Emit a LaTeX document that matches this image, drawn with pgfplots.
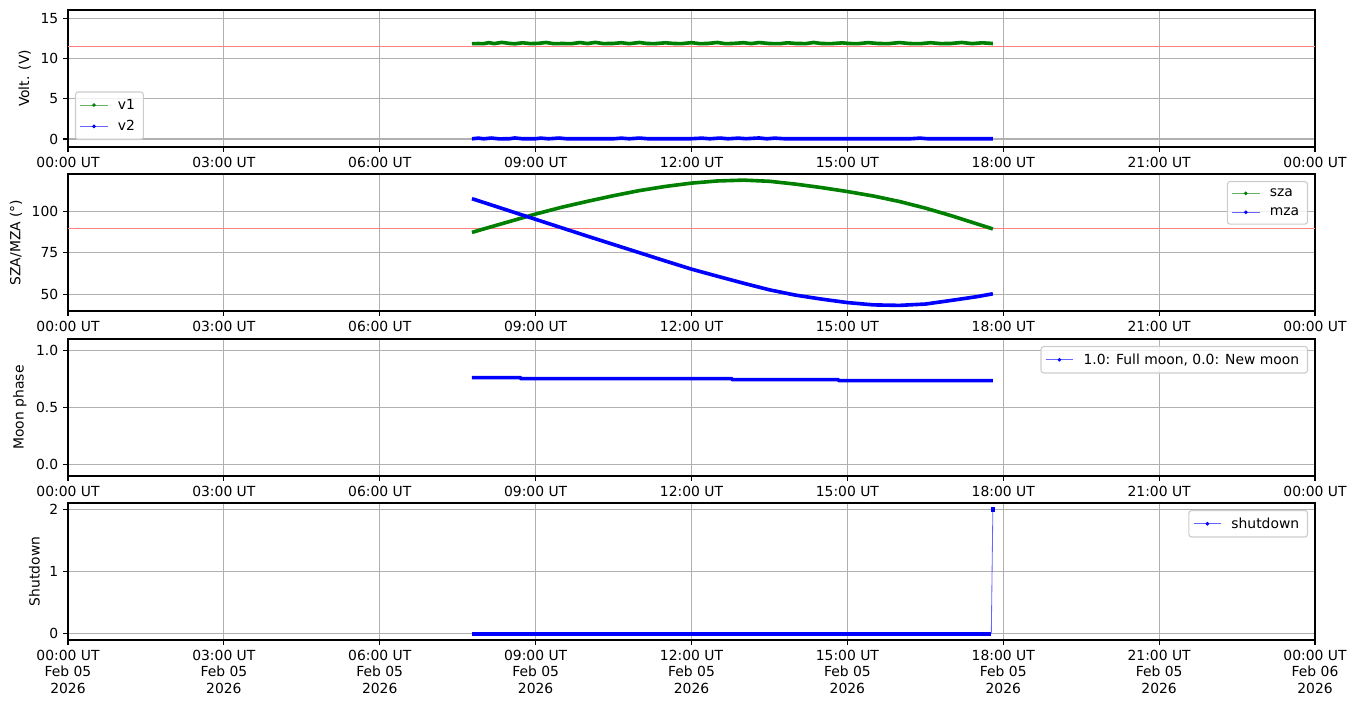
\documentclass[border=0pt]{standalone}
\usepackage{fontspec}
\setmainfont{DejaVu Sans}
\usepackage{pgfplots}
\pgfplotsset{compat=1.18}
\definecolor{mplgreen}{HTML}{008000}
\definecolor{mplgreenl}{HTML}{66B366}
\definecolor{mplblue}{HTML}{0000FF}
\definecolor{mplbluel}{HTML}{6666FF}
\definecolor{mplred}{HTML}{FF8080}
\definecolor{gridgray}{HTML}{B0B0B0}
\definecolor{leggray}{HTML}{CCCCCC}
\pgfplotsset{
  panel/.style={
    scale only axis, width=897.84pt, height=98.64pt,
    anchor=south west,
    xmin=0, xmax=24, xtick={0,3,...,24},
    xticklabels={00:00 UT,03:00 UT,06:00 UT,09:00 UT,12:00 UT,15:00 UT,18:00 UT,21:00 UT,00:00 UT},
    grid=major, grid style={color=gridgray, line width=0.8pt},
    tick align=outside, major tick length=3.5pt,
    tick style={black, line width=0.8pt},
    xtick pos=bottom, ytick pos=left,
    axis line style={line width=0.8pt},
    /pgf/number format/assume math mode=true,
    ticklabel style={font=\fontsize{10}{12}\selectfont},
    label style={font=\fontsize{10}{12}\selectfont},
    legend style={font=\fontsize{10}{12}\selectfont, draw=leggray, rounded corners=2pt,
      fill=white, fill opacity=0.8, text opacity=1, inner sep=3pt, row sep=2.5pt,
      line width=0.8pt, nodes={inner xsep=3pt},
      /tikz/every odd column/.append style={column sep=4pt}},
    legend cell align=left,
    legend image code/.code={\draw[mark repeat=2,mark phase=2,##1] plot coordinates {(0pt,0pt) (10pt,0pt) (20pt,0pt)};},
  },
  gleg/.style={mplgreenl, line width=0.6pt, mark=*, mark size=1pt, mark options={draw=mplgreen, fill=mplgreen}},
  bleg/.style={mplbluel, line width=0.6pt, mark=*, mark size=1pt, mark options={draw=mplblue, fill=mplblue}},
}
\begin{document}
\begin{tikzpicture}
% Panel 1: voltages
\begin{axis}[panel, at={(0pt,0pt)}, ymin=-1, ymax=16, ytick={0,5,10,15},
  ylabel={Volt. (V)},
  legend style={at={(0,0)}, anchor=south west, xshift=5pt, yshift=5pt}]
\addlegendimage{gleg}\addlegendentry{v1}
\addlegendimage{bleg}\addlegendentry{v2}
\addplot[mplred, line width=0.75pt, forget plot] coordinates {(0,11.5) (24,11.5)};
\addplot[mplgreen, line width=2.6pt, forget plot] coordinates {
(7.775,11.82) (7.9,11.84) (8.0,11.82) (8.1,11.95) (8.2,11.83) (8.35,11.98) (8.5,11.85) (8.6,11.81)
(8.75,11.93) (8.9,11.83) (9.05,11.86) (9.2,11.97) (9.35,11.82) (9.5,11.84) (9.7,11.83) (9.85,11.96)
(10.0,11.84) (10.15,11.98) (10.3,11.83) (10.5,11.85) (10.65,11.94) (10.8,11.82) (11.0,11.97) (11.15,11.84)
(11.3,11.83) (11.5,11.93) (11.65,11.85) (11.8,11.82) (12.0,11.95) (12.15,11.83) (12.3,11.84) (12.5,11.97)
(12.65,11.82) (12.8,11.85) (13.0,11.94) (13.15,11.83) (13.3,11.96) (13.5,11.84) (13.7,11.82) (13.85,11.93)
(14.0,11.85) (14.2,11.83) (14.35,11.97) (14.5,11.84) (14.7,11.83) (14.9,11.92) (15.05,11.84) (15.2,11.82)
(15.4,11.95) (15.6,11.84) (15.8,11.83) (16.0,11.96) (16.2,11.84) (16.4,11.82) (16.6,11.94) (16.8,11.83)
(17.0,11.85) (17.2,11.97) (17.4,11.83) (17.6,11.93) (17.8,11.84)};
\addplot[mplblue, line width=2.6pt, forget plot] coordinates {
(7.775,0.02) (7.9,0.10) (8.0,0.02) (8.15,0.11) (8.3,0.01) (8.5,0.03) (8.6,0.12) (8.75,0.02)
(9.0,0.03) (9.1,0.10) (9.25,0.02) (9.45,0.11) (9.6,0.02) (9.8,0.03) (10.0,0.02) (10.2,0.03)
(10.5,0.02) (10.65,0.10) (10.8,0.02) (11.0,0.11) (11.15,0.03) (11.4,0.02) (11.6,0.03) (11.8,0.02)
(12.0,0.03) (12.2,0.10) (12.35,0.02) (12.55,0.11) (12.7,0.02) (12.9,0.10) (13.05,0.03) (13.3,0.12)
(13.45,0.02) (13.6,0.10) (13.8,0.02) (14.0,0.03) (14.2,0.02) (14.4,0.03) (14.6,0.02) (14.8,0.03)
(15.0,0.02) (15.2,0.03) (15.4,0.02) (15.6,0.03) (15.8,0.02) (16.0,0.03) (16.2,0.02) (16.4,0.10)
(16.55,0.02) (16.8,0.03) (17.0,0.02) (17.2,0.03) (17.4,0.02) (17.6,0.03) (17.8,0.02)};
\end{axis}
% Panel 2: SZA / MZA
\begin{axis}[panel, at={(0pt,-118.08pt)}, ymin=39.8, ymax=122.6, ytick={50,75,100},
  ylabel={SZA/MZA (°)},
  legend style={at={(1,1)}, anchor=north east, xshift=-5pt, yshift=-5pt}]
\addlegendimage{gleg}\addlegendentry{sza}
\addlegendimage{bleg}\addlegendentry{mza}
\addplot[mplred, line width=0.75pt, forget plot] coordinates {(0,89.5) (24,89.5)};
\addplot[mplgreen, line width=2.6pt, forget plot] coordinates {
(7.775,87.3) (8.0,89.4) (8.5,93.9) (9.0,98.4) (9.5,102.5) (10.0,106.1) (10.5,109.5) (11.0,112.6)
(11.5,115.1) (12.0,117.1) (12.5,118.4) (13.0,118.9) (13.5,118.2) (14.0,116.5) (14.5,114.4) (15.0,112.0)
(15.5,109.3) (16.0,106.0) (16.5,102.0) (17.0,97.4) (17.5,92.4) (17.8,89.4)};
\addplot[mplblue, line width=2.6pt, forget plot] coordinates {
(7.775,107.7) (8.0,105.4) (8.5,100.3) (9.0,95.2) (9.5,90.1) (10.0,85.0) (10.5,80.0) (11.0,75.0)
(11.5,70.0) (12.0,65.1) (12.5,60.8) (13.0,56.6) (13.5,52.6) (14.0,49.4) (14.5,47.0) (15.0,44.9)
(15.5,43.5) (16.0,43.2) (16.5,44.0) (17.0,46.2) (17.5,48.5) (17.8,50.2)};
\end{axis}
% Panel 3: Moon phase
\begin{axis}[panel, at={(0pt,-236.88pt)}, ymin=-0.1, ymax=1.1, ytick={0,0.5,1},
  yticklabel style={/pgf/number format/.cd, fixed, fixed zerofill, precision=1},
  ylabel={Moon phase},
  legend style={at={(1,1)}, anchor=north east, xshift=-5pt, yshift=-5pt}]
\addlegendimage{bleg}\addlegendentry{1.0: Full moon, 0.0: New moon}
\addplot[mplblue, line width=2.6pt, forget plot] coordinates {
(7.775,0.762) (8.70,0.762) (8.72,0.753) (12.77,0.753) (12.79,0.744) (14.82,0.744) (14.84,0.736) (17.80,0.736)};
\end{axis}
% Panel 4: Shutdown
\begin{axis}[panel, at={(0pt,-354.96pt)}, ymin=-0.1, ymax=2.1, ytick={0,1,2},
  ylabel={Shutdown},
  xticklabel style={align=center},
  xticklabels={{00:00 UT\\Feb 05\\2026},{03:00 UT\\Feb 05\\2026},{06:00 UT\\Feb 05\\2026},{09:00 UT\\Feb 05\\2026},{12:00 UT\\Feb 05\\2026},{15:00 UT\\Feb 05\\2026},{18:00 UT\\Feb 05\\2026},{21:00 UT\\Feb 05\\2026},{00:00 UT\\Feb 06\\2026}},
  legend style={at={(1,1)}, anchor=north east, xshift=-5pt, yshift=-5pt}]
\addlegendimage{bleg}\addlegendentry{shutdown}
\addplot[mplblue, line width=2.6pt, forget plot] coordinates {(7.775,0) (17.77,0)};
\addplot[mplbluel, line width=0.6pt, forget plot] coordinates {(17.77,0) (17.80,2)};
\addplot[mplblue, only marks, mark=square*, mark size=1.2pt, forget plot] coordinates {(17.80,2)};
\end{axis}
\pgfresetboundingbox
\path[use as bounding box] (-48.96pt,-403.2pt) rectangle (927.36pt,105.84pt);
\end{tikzpicture}
\end{document}
